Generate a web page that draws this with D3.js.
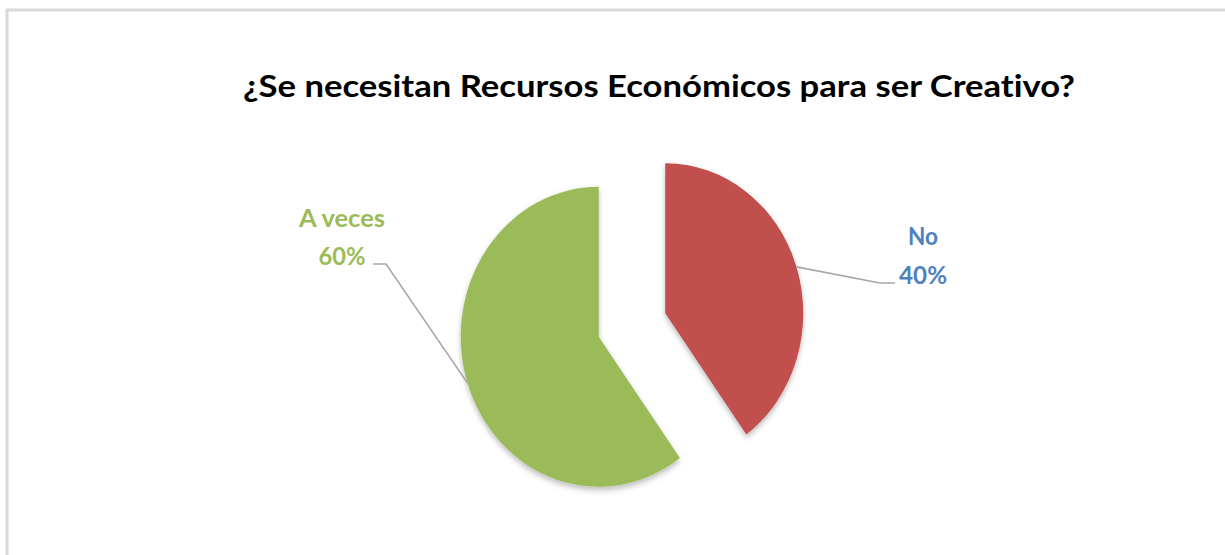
<!DOCTYPE html>
<html>
<head>
<meta charset="utf-8">
<script src="https://cdn.jsdelivr.net/npm/d3@7"></script>
<style>
  html, body { margin: 0; padding: 0; background: #fff; }
  svg { display: block; }
  text { font-variant-ligatures: none; font-feature-settings: "liga" 0; }
</style>
</head>
<body>
<svg id="chart" width="1225" height="555"></svg>
<script>
// Survey answers
const categories = ["No", "A veces"];
const values = [40, 60];
const sliceColors = ["#C0504D", "#9BBB59"];
const labelColors = ["#4F81BD", "#9BBB59"];
const title = "¿Se necesitan Recursos Económicos para ser Creativo?";

const W = 1225, H = 555;
const svg = d3.select("#chart");

// chart frame
svg.append("rect")
  .attr("x", 7).attr("y", 10)
  .attr("width", W + 10).attr("height", H + 10)
  .attr("fill", "#fff")
  .attr("stroke", "#d9d9d9").attr("stroke-width", 3);

// soft shadow under the slices
const defs = svg.append("defs");
const f = defs.append("filter").attr("id", "shadow")
  .attr("x", "-20%").attr("y", "-20%").attr("width", "140%").attr("height", "140%");
f.append("feDropShadow").attr("dx", 0).attr("dy", 3).attr("stdDeviation", 3)
  .attr("flood-color", "#000").attr("flood-opacity", 0.28);

const font = "Lato, 'Open Sans', 'DejaVu Sans', sans-serif";

// fit text to a given width
function fitText(sel, width) {
  sel.attr("textLength", width).attr("lengthAdjust", "spacingAndGlyphs");
}

// title
svg.append("text")
  .attr("x", 243).attr("y", 97)
  .attr("font-family", font).attr("font-weight", 700).attr("font-size", 30)
  .attr("fill", "#000")
  .text(title)
  .call(fitText, 832);

// pie geometry
const cx = 632, cy = 325, r = 150, sx = 0.92, explode = 38;

const pie = d3.pie().sort(null).value(d => d)
  .startAngle(0).endAngle(2 * Math.PI);
const arcs = pie(values);
const arc = d3.arc().innerRadius(0).outerRadius(r);

const g = svg.append("g")
  .attr("transform", `translate(${cx},${cy}) scale(${sx},1)`);

g.selectAll("path")
  .data(arcs)
  .join("path")
  .attr("d", arc)
  .attr("fill", (d, i) => sliceColors[i])
  .attr("filter", "url(#shadow)")
  .attr("transform", d => {
    const a = (d.startAngle + d.endAngle) / 2;
    return `translate(${explode * Math.sin(a)},${-explode * Math.cos(a)})`;
  });

// labels: elbow point of leader, line end, text centre
const labelLayout = [
  { elbow: [880, 283], end: [895, 283], tx: 923, names: [245, 30], pct: [284, 48] },
  { elbow: [386, 264], end: [373, 264], tx: 342, names: [227, 86], pct: [265, 47] }
];

arcs.forEach((d, i) => {
  const a = (d.startAngle + d.endAngle) / 2;
  const ox = cx + explode * Math.sin(a) * sx;
  const oy = cy - explode * Math.cos(a);
  const px = ox + r * Math.sin(a) * sx;
  const py = oy - r * Math.cos(a);
  const L = labelLayout[i];

  svg.append("path")
    .attr("d", d3.line()([[px, py], L.elbow, L.end]))
    .attr("fill", "none")
    .attr("stroke", "#a6a6a6")
    .attr("stroke-width", 1.6);

  const pct = Math.round(d.value / d3.sum(values) * 100) + "%";

  svg.append("text")
    .attr("x", L.tx).attr("y", L.names[0])
    .attr("text-anchor", "middle")
    .attr("font-family", font).attr("font-weight", 700).attr("font-size", 24.5)
    .attr("fill", labelColors[i])
    .text(categories[i])
    .call(fitText, L.names[1]);

  svg.append("text")
    .attr("x", L.tx).attr("y", L.pct[0])
    .attr("text-anchor", "middle")
    .attr("font-family", font).attr("font-weight", 700).attr("font-size", 24.5)
    .attr("fill", labelColors[i])
    .text(pct)
    .call(fitText, L.pct[1]);
});
</script>
</body>
</html>
